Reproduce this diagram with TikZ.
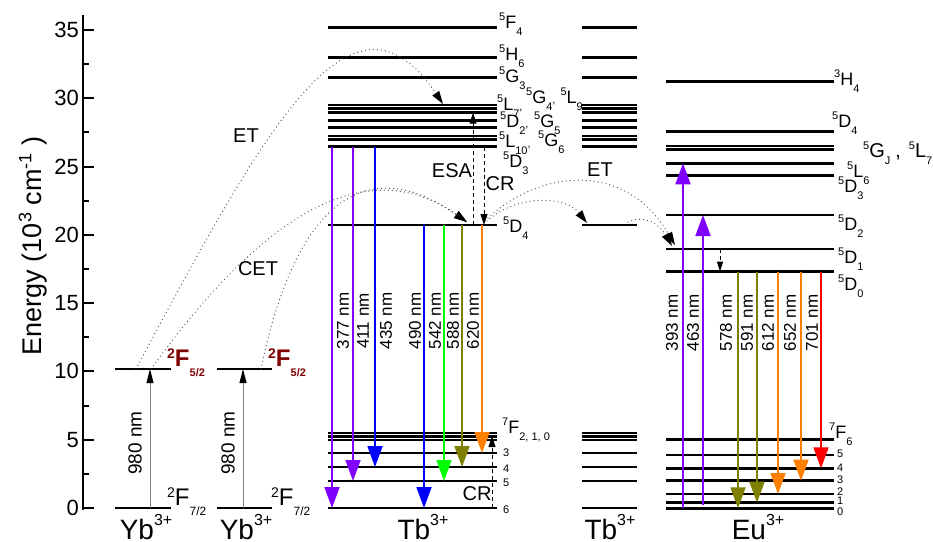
\documentclass[tikz,border=0pt]{standalone}
\usepackage{fontspec}
\setmainfont{Liberation Sans}
\usetikzlibrary{arrows.meta}
\definecolor{cviol}{RGB}{128,0,255}
\definecolor{cblue}{RGB}{0,0,255}
\definecolor{cgreen}{RGB}{0,255,0}
\definecolor{colive}{RGB}{128,128,0}
\definecolor{corange}{RGB}{255,128,0}
\definecolor{cred}{RGB}{255,0,0}
\definecolor{cdred}{RGB}{128,0,0}
\definecolor{cdot}{RGB}{80,80,80}
\newcommand\fsz[1]{\fontsize{#1}{#1}\selectfont}
\newcommand\lvlab[3]{\raisebox{8pt}{\fsz{11}#1}#2\raisebox{-7pt}{\fsz{11}#3}}
\newcommand\ionlab[1]{#1\raisebox{14pt}{\fsz{16}3+}}
\begin{document}
\begin{tikzpicture}[x=1pt,y=-1pt,
  lev/.style={line width=2.7pt},
  emit/.style={line width=1.8pt,-{Triangle[width=15pt,length=21pt]}},
  pump/.style={line width=1pt,draw=gray,-{Triangle[width=7pt,length=14pt,color=black]}},
  etline/.style={cdot,line width=1.3pt,line cap=round,dash pattern=on 0pt off 4pt,-{Triangle[width=8pt,length=13pt,color=black]}},
  dasharr/.style={line width=1pt,dash pattern=on 4pt off 3pt,-{Triangle[width=7pt,length=11pt]}},
  wl/.style={rotate=90,font=\fsz{17},inner sep=0pt},
  wlb/.style={rotate=90,font=\fsz{19},inner sep=0pt},
  lab/.style={anchor=base west,inner sep=0pt,font=\fsz{18}},
  numl/.style={anchor=base west,inner sep=0pt,font=\fsz{11}},
  txt/.style={font=\fsz{20},inner sep=0pt},
  ionl/.style={anchor=base,inner sep=0pt,font=\fsz{28}},
  ybl/.style={anchor=base west,inner sep=0pt,font=\fsz{24}},
]
\useasboundingbox (0,0) rectangle (933,541);

% ---------------- axis
\draw[line width=2pt] (83,15) -- (83,510);
\foreach \v [count=\k from 0] in {0,5,10,15,20,25,30,35} {
  \draw[line width=2pt] (83,{508-68.3*\k}) -- (94,{508-68.3*\k});
  \node[anchor=east,inner sep=0pt,font=\fsz{22}] (tick\k) at (79,{508-68.3*\k}) {\v};
}
\foreach \k in {0,...,6} \draw[line width=2pt] (83,{508-68.3*\k-34.15}) -- (89,{508-68.3*\k-34.15});
\node[rotate=90,font=\fsz{27},inner sep=0pt] (ylab) at (33,246) {Energy (10\raisebox{10pt}{\fsz{18}3} cm\raisebox{10pt}{\fsz{18}-1} )};

% ---------------- levels
\foreach \xa/\xb in {115/171,217/272} {
  \draw[lev] (\xa,369) -- (\xb,369);
  \draw[lev] (\xa,508) -- (\xb,508);
}
\foreach \xa/\xb in {328/497,582/637} {
  \foreach \y in {27.5,57.5,77.5,105,108.7,112.7,120.7,127.3,136,139.5,146.7,225,433,436.5,440,453,467,481,508} {
    \draw[lev] (\xa,\y) -- (\xb,\y);
  }
}
\foreach \y in {81.7,131.7,146,149.3,163.3,175.7,215,249,271.7,439.3,455,468.3,480.7,494,502.7,508.3} {
  \draw[lev] (666,\y) -- (834,\y);
}

% ---------------- Yb pumping
\coordinate (pa0) at (150,508); \coordinate (pa1) at (150,369);
\coordinate (pb0) at (243,508); \coordinate (pb1) at (243,369);
\draw[pump] (pa0) -- (pa1);
\draw[pump] (pb0) -- (pb1);
\node[wlb] (w980a) at (135,443) {980 nm};
\node[wlb] (w980b) at (228,443) {980 nm};

\node[ybl,text=cdred,font=\bfseries\fsz{24}] (f52a) at (167,366) {\raisebox{8pt}{\fsz{14}2}F\raisebox{-10pt}{\fsz{11}5/2}};
\node[ybl,text=cdred,font=\bfseries\fsz{24}] (f52b) at (268,366) {\raisebox{8pt}{\fsz{14}2}F\raisebox{-10pt}{\fsz{11}5/2}};
\node[ybl] (f72a) at (167,505) {\raisebox{8pt}{\fsz{14}2}F\raisebox{-10pt}{\fsz{12}7/2}};
\node[ybl] (f72b) at (271,505) {\raisebox{8pt}{\fsz{14}2}F\raisebox{-10pt}{\fsz{12}7/2}};

% ---------------- Tb emissions
\foreach \x/\ya/\yb/\c in {332/146.7/508/cviol,353/146.7/481/cviol,375/146.7/467/cblue,424/225/508/cblue,444/225/481/cgreen,462/225/467/colive,482/225/453/corange} {
  \coordinate (ts\x) at (\x,\ya);
  \coordinate (te\x) at (\x,\yb);
  \draw[emit,\c] (ts\x) -- (te\x);
}
\foreach \x/\t in {343/377,363/411,386/435,415/490,435/542,453/588,473/620} {
  \node[wl] (wt\t) at (\x,321) {\t\ nm};
}

% ---------------- Eu transitions
\coordinate (eu393a) at (683,508); \coordinate (eu393b) at (683,163.3);
\coordinate (eu463a) at (703,505); \coordinate (eu463b) at (703,215);
\draw[emit,cviol] (eu393a) -- (eu393b);
\draw[emit,cviol] (eu463a) -- (eu463b);
\foreach \x/\yb/\c in {738/508.3/colive,757/502.7/colive,778/494/corange,801/480.7/corange,821/468.3/cred} {
  \coordinate (es\x) at (\x,271.7);
  \coordinate (ee\x) at (\x,\yb);
  \draw[emit,\c] (es\x) -- (ee\x);
}
\foreach \x/\t in {672/393,693/463,726/578,747/591,768/612,790/652,812/701} {
  \node[wl] (we\t) at (\x,323) {\t\ nm};
}

% ---------------- dashed arrows
\coordinate (esa0) at (473,225); \coordinate (esa1) at (473,112.7);
\coordinate (cr0) at (484,146.7); \coordinate (cr1) at (484,225);
\coordinate (crb0) at (492,508); \coordinate (crb1) at (492,436);
\coordinate (eud0) at (720,249); \coordinate (eud1) at (720,271.7);
\draw[dasharr] (esa0) -- (esa1);
\draw[dasharr] (cr0) -- (cr1);
\draw[dasharr] (crb0) -- (crb1);
\draw[dasharr,-{Triangle[width=6pt,length=10pt]}] (eud0) -- (eud1);

% ---------------- energy transfer curves
\coordinate (et0) at (136,369); \coordinate (et1) at (443,104);
\coordinate (ceta) at (151,369); \coordinate (cetb) at (261,369); \coordinate (cet1) at (467,222);
\coordinate (tbd) at (487,221); \coordinate (tb2d) at (587,223);
\coordinate (tbc) at (488,218); \coordinate (eud) at (675,245);
\coordinate (tb2e) at (628,222); \coordinate (eue) at (672,246);
\draw[etline] (et0) .. controls (268,121) and (353,-30) .. (et1);
\draw[etline] (ceta) .. controls (278,193) and (377,159) .. (cet1);
\draw[etline] (cetb) .. controls (292,218) and (357,145) .. (cet1);
\draw[etline] (tbd) .. controls (515,195) and (565,195) .. (tb2d);
\draw[etline] (tbc) .. controls (540,170) and (625,160) .. (eud);
\draw[etline] (tb2e) .. controls (645,214) and (660,225) .. (eue);

% ---------------- process labels
\node[txt] (lET1) at (246,136) {ET};
\node[txt] (lCET) at (258,269) {CET};
\node[txt] (lESA) at (452,171) {ESA};
\node[txt] (lCR1) at (500,184) {CR};
\node[txt] (lET2) at (600,170) {ET};
\node[txt] (lCR2) at (477,494) {CR};

% ---------------- Tb level labels
\node[lab] (lF4) at (499,28.5) {\lvlab{5}{F}{4}};
\node[lab] (lH6) at (499,60) {\lvlab{5}{H}{6}};
\node[lab] (lG3) at (499,82) {\lvlab{5}{G}{3}};
\node[lab] (lG4) at (526,103) {\lvlab{5}{G}{4}{\fsz{11},} \lvlab{5}{L}{9}};
\node[lab] (lL7) at (497,110) {\lvlab{5}{L}{7}{\fsz{11},}};
\node[lab] (lD2) at (500,127) {\lvlab{5}{D}{2}{\fsz{11},}};
\node[lab] (lG5) at (534,127) {\lvlab{5}{G}{5}};
\node[lab] (lL10) at (499,147) {\lvlab{5}{L}{10}{\fsz{11},}};
\node[lab] (lG6) at (538,146) {\lvlab{5}{G}{6}};
\node[lab] (lD3) at (503,167) {\lvlab{5}{D}{3}};
\node[lab] (lD4) at (503,232) {\lvlab{5}{D}{4}};
\node[lab] (lF7) at (502,433) {\lvlab{7}{F}{2, 1, 0}};
\node[numl] (n3) at (503,456) {3};
\node[numl] (n4) at (503,472) {4};
\node[numl] (n5) at (503,486) {5};
\node[numl] (n6) at (503,513) {6};

% ---------------- Eu level labels
\node[lab] (eH4) at (834,85) {\lvlab{3}{H}{4}};
\node[lab] (eD4) at (832,127) {\lvlab{5}{D}{4}};
\node[lab,font=\fsz{20}] (eGJ) at (863,157) {\lvlab{5}{G}{J}\hspace{5pt},\hspace{8pt}\lvlab{5}{L}{7}};
\node[lab] (eL6) at (847,177) {\lvlab{5}{L}{6}};
\node[lab] (eD3) at (838,192) {\lvlab{5}{D}{3}};
\node[lab] (eD2) at (838,230) {\lvlab{5}{D}{2}};
\node[lab] (eD1) at (838,263) {\lvlab{5}{D}{1}};
\node[lab] (eD0) at (838,290) {\lvlab{5}{D}{0}};
\node[lab] (eF6) at (829,438) {\lvlab{7}{F}{6}};
\foreach \v/\y in {5/457,4/471,3/483,2/495,1/504,0/515} {
  \node[numl] (en\v) at (837,\y) {\v};
}

% ---------------- ion labels
\node[ionl] (yb1) at (146,539) {\ionlab{Yb}};
\node[ionl] (yb2) at (246,539) {\ionlab{Yb}};
\node[ionl] (tb1) at (423,539) {\ionlab{Tb}};
\node[ionl] (tb2) at (610,539) {\ionlab{Tb}};
\node[ionl] (eu1) at (758,539) {\ionlab{Eu}};
\end{tikzpicture}
\end{document}
